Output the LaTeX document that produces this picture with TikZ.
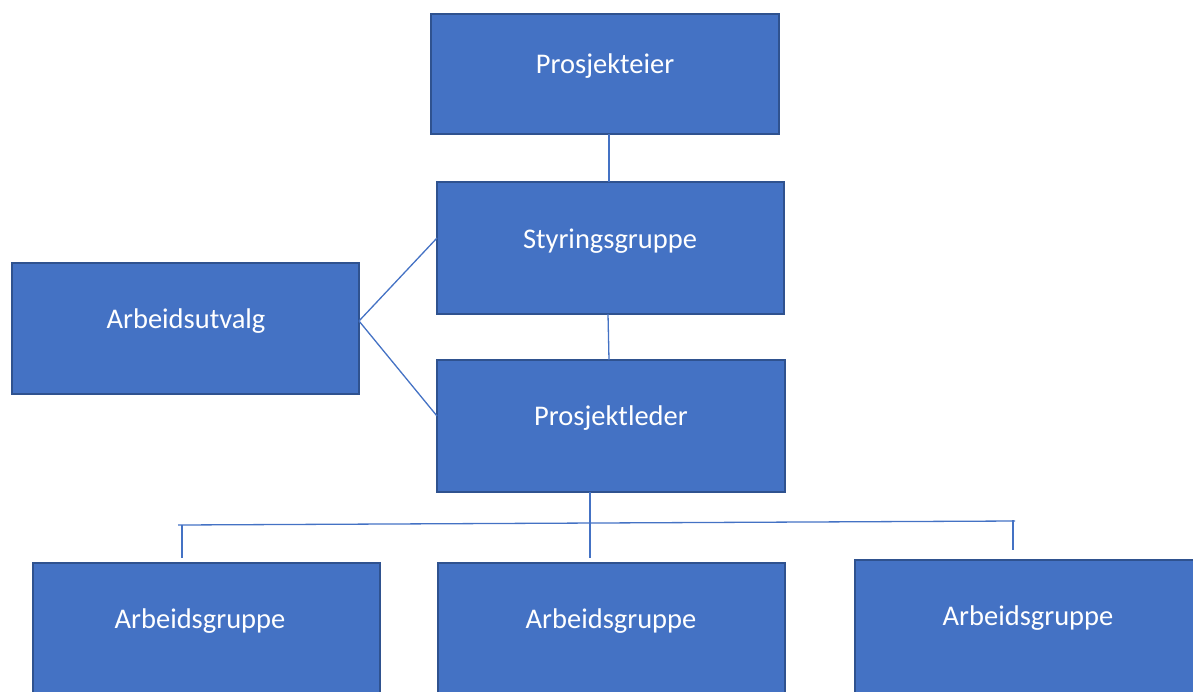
\documentclass[tikz,border=0pt]{standalone}
\usepackage{fontspec}
\setmainfont{Carlito}
\definecolor{boxfill}{HTML}{4472C4}
\definecolor{boxedge}{HTML}{2F528F}
\definecolor{linec}{HTML}{4472C4}
\begin{document}
\begin{tikzpicture}[x=1pt,y=-1pt,
  box/.style={draw=boxedge, fill=boxfill, line width=2pt, inner sep=0pt, outer sep=0pt, anchor=north west},
  lbl/.style={text=white, font=\fontsize{28.5}{32}\selectfont, inner sep=0pt},
  conn/.style={draw=linec, line width=1.3pt}]
\useasboundingbox (0,0) rectangle (1193,691);
\clip (0,0) rectangle (1193,691);
% boxes
\node[box, minimum width=348, minimum height=120] (pe) at (431,14) {};
\node[lbl] at (605,66) {Prosjekteier};
\node[box, minimum width=347, minimum height=132] (sg) at (437,182) {};
\node[lbl] at (610,241) {Styringsgruppe};
\node[box, minimum width=347, minimum height=131] (au) at (12,263) {};
\node[lbl] at (186,321) {Arbeidsutvalg};
\node[box, minimum width=348, minimum height=132] (pl) at (437,360) {};
\node[lbl] at (611,418) {Prosjektleder};
\node[box, minimum width=347, minimum height=140] (ag1) at (33,563) {};
\node[lbl] at (200,621) {Arbeidsgruppe};
\node[box, minimum width=347, minimum height=140] (ag2) at (438,563) {};
\node[lbl] at (611,621) {Arbeidsgruppe};
\node[box, minimum width=345, minimum height=140] (ag3) at (855,560) {};
\node[lbl] at (1028,618) {Arbeidsgruppe};
% connectors
\draw[conn] (pe.south -| 609,0) -- (sg.north -| 609,0);
\draw[conn] (sg.south -| 608,0) -- (pl.north -| 609,0);
\coordinate (auR) at (359,321);
\draw[conn] (auR) -- (sg.west |- 0,238);
\draw[conn] (auR) -- (pl.west |- 0,416);
\coordinate (barL) at (178,525);
\coordinate (barR) at (1015,521);
\coordinate (dropM) at (590,558);
\coordinate (dropL) at (182,558);
\coordinate (dropR) at (1013,550);
\draw[conn] (pl.south -| 590,0) -- (dropM);
\draw[conn] (barL) -- (barR);
\draw[conn] (182,525) -- (dropL);
\draw[conn] (1013,520) -- (dropR);
\end{tikzpicture}
\end{document}
